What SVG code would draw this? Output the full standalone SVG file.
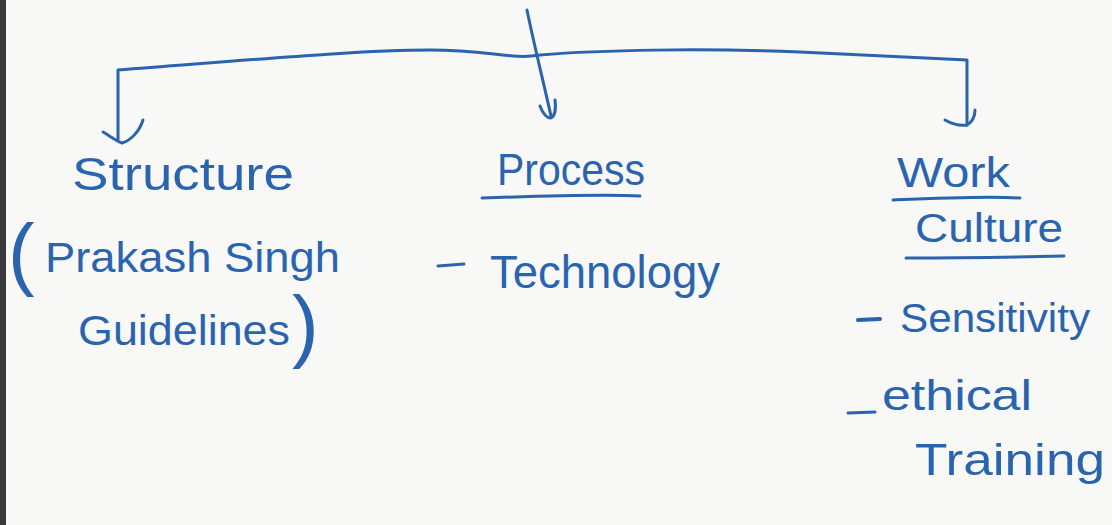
<svg xmlns="http://www.w3.org/2000/svg" width="1112" height="525" viewBox="0 0 1112 525">
<style>
.ink{fill:none;stroke:#2a64ae;stroke-width:3;stroke-linecap:round;stroke-linejoin:round}
.t{font-family:"Liberation Sans",Arial,sans-serif;fill:#2a64ae;font-weight:normal}
</style>
<rect x="0" y="0" width="1112" height="525" fill="#f8f8f7"/>
<rect x="0" y="0" width="6" height="525" fill="#3a3a3a"/>
<g id="connectors">
<path class="ink" d="M527,10 C533,40 543,80 551,116"/>
<path class="ink" d="M540,106 C543,114 547,118 551,118 C555,116 556,108 555,100"/>
<path class="ink" d="M118,140 L118,70 C250,60 360,50 430,50 C490,50 510,60 540,55 C600,50 700,48 800,52 C880,56 930,58 967,60 L967,125"/>
<path class="ink" d="M103,132 C110,136 116,141 122,143 C132,140 140,130 143,120"/>
<path class="ink" d="M945,120 C952,124 960,126 967,125 C972,122 975,116 975,110"/>
</g>
<g id="node-structure">
<text class="t" x="72" y="190" font-size="46" textLength="222" lengthAdjust="spacingAndGlyphs">Structure</text>
<text class="t" x="8" y="280" font-size="80">(</text>
<text class="t" x="45" y="272" font-size="42" textLength="295" lengthAdjust="spacingAndGlyphs">Prakash Singh</text>
<text class="t" x="78" y="345" font-size="42" textLength="212" lengthAdjust="spacingAndGlyphs">Guidelines</text>
<text class="t" x="292" y="352" font-size="80">)</text>
</g>
<g id="node-process">
<text class="t" x="497" y="185" font-size="44" textLength="148" lengthAdjust="spacingAndGlyphs">Process</text>
<path class="ink" d="M482,198 C540,196 600,194 640,196"/>
<path class="ink" d="M438,266 L464,264"/>
<text class="t" x="490" y="288" font-size="46" textLength="230" lengthAdjust="spacingAndGlyphs">Technology</text>
</g>
<g id="node-work-culture">
<text class="t" x="897" y="187" font-size="42" textLength="113" lengthAdjust="spacingAndGlyphs">Work</text>
<path class="ink" d="M893,200 C940,198 985,196 1020,198"/>
<text class="t" x="915" y="242" font-size="40" textLength="148" lengthAdjust="spacingAndGlyphs">Culture</text>
<path class="ink" d="M906,258 C960,258 1020,257 1064,256"/>
<path class="ink" d="M858,320 L880,319" style="stroke-width:4"/>
<text class="t" x="900" y="332" font-size="40" textLength="190" lengthAdjust="spacingAndGlyphs">Sensitivity</text>
<path class="ink" d="M848,413 L875,412"/>
<text class="t" x="882" y="410" font-size="42" textLength="150" lengthAdjust="spacingAndGlyphs">ethical</text>
<text class="t" x="915" y="475" font-size="44" textLength="190" lengthAdjust="spacingAndGlyphs">Training</text>
</g>
</svg>
